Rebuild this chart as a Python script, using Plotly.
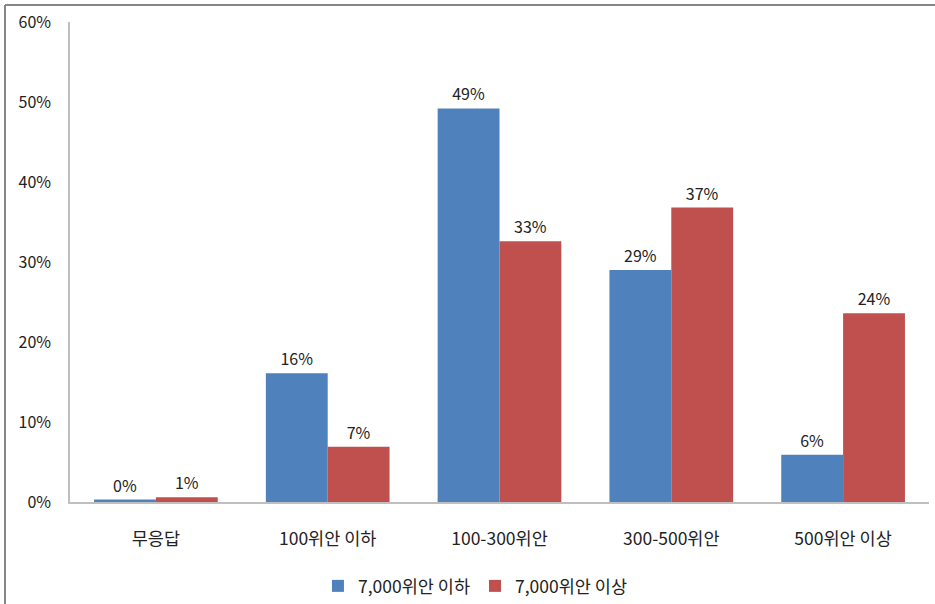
import plotly.graph_objects as go

categories = ["무응답", "100위안 이하", "100-300위안", "300-500위안", "500위안 이상"]
series_names = ["7,000위안 이하", "7,000위안 이상"]
low_income = [0.3, 16.1, 49.2, 29.0, 5.9]
high_income = [0.6, 6.9, 32.6, 36.8, 23.6]
y_ticks = [0, 10, 20, 30, 40, 50, 60]
y_tick_labels = [f"{t}%" for t in y_ticks]

colors = ["#4F81BD", "#C0504D"]
FONT = "Noto Sans CJK KR"
FS = 16
FS_KR = 17.5

fig = go.Figure()
for name, vals, col in zip(series_names, [low_income, high_income], colors):
    fig.add_trace(go.Bar(
        x=categories, y=vals, name=name, marker_color=col,
        marker_line_width=0,
        text=[f"{v:.0f}%" for v in vals], textposition="outside",
        textfont=dict(size=FS, color="#222222", family=FONT),
        cliponaxis=False,
    ))

W, H = 935, 604
L, R, T, B = 70, 6, 22, 102
pw, ph = W - L - R, H - T - B

fig.update_layout(
    width=W, height=H,
    margin=dict(l=L, r=R, t=T, b=B, autoexpand=False),
    paper_bgcolor="white", plot_bgcolor="white",
    barmode="group", bargap=0.28, bargroupgap=0,
    font=dict(family=FONT, size=FS, color="#222222"),
    showlegend=True,
    legend=dict(orientation="h", x=0.472, xanchor="center",
                y=(T + ph - 586) / ph, yanchor="middle",
                font=dict(size=FS_KR), itemwidth=30, tracegroupgap=0),
    xaxis=dict(showline=True, linecolor="#BFBFBF", linewidth=1.5,
               ticks="", tickfont=dict(size=FS_KR), ticklabelstandoff=20,
               automargin=False),
    yaxis=dict(range=[0, 60], tickvals=y_ticks, ticktext=y_tick_labels,
               showgrid=False, zeroline=False, showline=True,
               linecolor="#BFBFBF", linewidth=1.5, ticks="",
               tickfont=dict(size=FS), ticklabelstandoff=14,
               automargin=False),
)

# outer chart border (top and left visible in the reference)
x_left = (5 - L) / pw
y_top = (T + ph - 5) / ph
fig.add_shape(type="line", xref="paper", yref="paper",
              x0=x_left, x1=(W + 10 - L) / pw, y0=y_top, y1=y_top,
              line=dict(color="#868686", width=2))
fig.add_shape(type="line", xref="paper", yref="paper",
              x0=x_left, x1=x_left, y0=y_top, y1=(T + ph - H - 10) / ph,
              line=dict(color="#868686", width=2))

fig.write_html("out.html")
